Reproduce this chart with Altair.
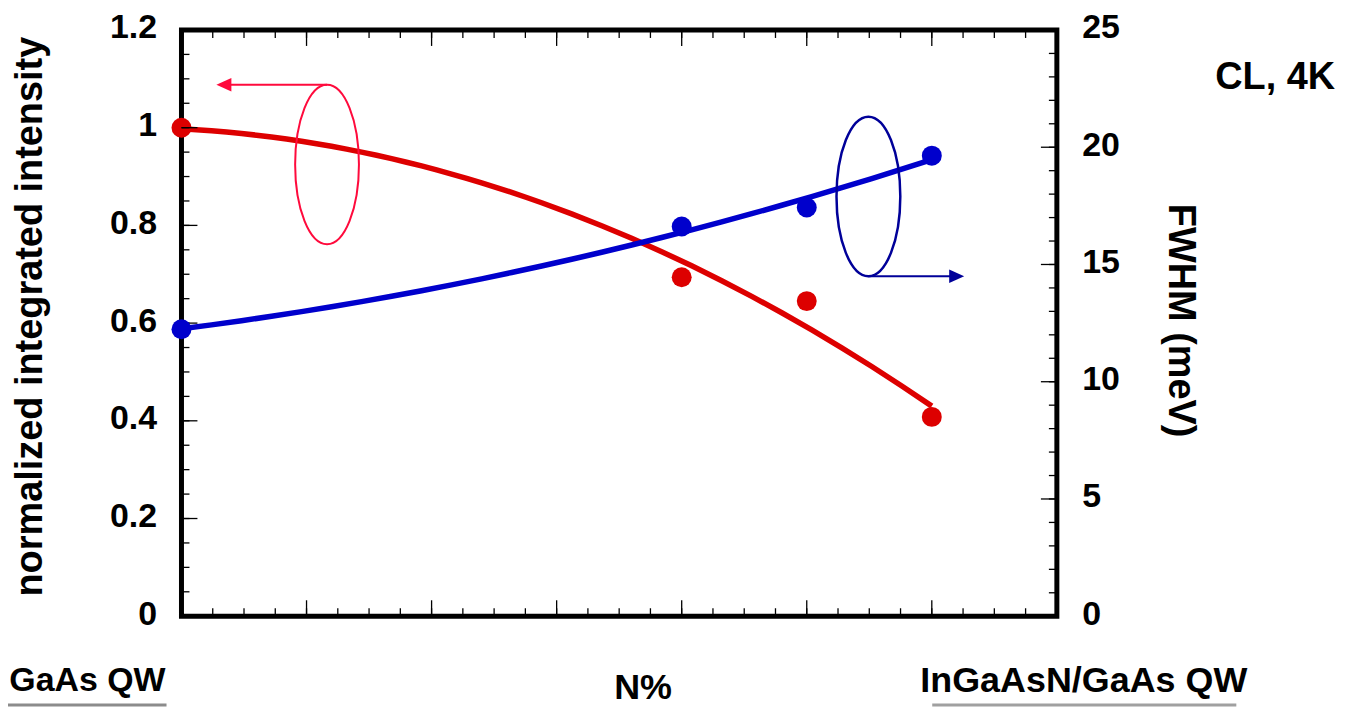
import altair as alt
import pandas as pd

# ---- data ----
n_pos = [0, 4, 5, 6]                      # sample positions along the N% axis
intensity = [1.0, 0.694, 0.645, 0.408]    # normalized integrated intensity (left axis)
fwhm = [12.24, 16.62, 17.43, 19.64]       # FWHM in meV (right axis)

left_ticks = [0, 0.2, 0.4, 0.6, 0.8, 1.0, 1.2]
right_ticks = [0, 5, 10, 15, 20, 25]
x_major = [0, 1, 2, 3, 4, 5, 6, 7]
left_minor = [round(i * 0.05, 2) for i in range(25)]
right_minor = list(range(26))
x_minor = [i * 0.25 for i in range(29)]

# annotation anchors (data coordinates)
red_ellipse = pd.DataFrame({"x": [1.164], "y": [0.9245]})
red_arrow = pd.DataFrame({"x1": [1.164], "x2": [0.339], "y": [1.0878]})
blue_ellipse = pd.DataFrame({"x": [5.493], "y": [17.90]})
blue_arrow = pd.DataFrame({"x1": [5.493], "x2": [6.199], "y": [14.50]})

W, H = 878, 588
RED = "#dd0000"
BLUE = "#0000cc"
FONT = "Liberation Sans"

ELLIPSE = ("M0,-1 C0.2209,-1 0.4,-0.5523 0.4,0 C0.4,0.5523 0.2209,1 0,1 "
           "C-0.2209,1 -0.4,0.5523 -0.4,0 C-0.4,-0.5523 -0.2209,-1 0,-1 Z")
HEAD_LEFT = "M-1,0 L1,-0.9 L1,0.9 Z"
HEAD_RIGHT = "M1,0 L-1,-0.9 L-1,0.9 Z"

df = pd.DataFrame({"N": n_pos, "intensity": intensity, "fwhm": fwhm})
one = pd.DataFrame({"k": [0]})

xs = alt.Scale(domain=[0, 7], nice=False, zero=False)
yl = alt.Scale(domain=[0, 1.2], nice=False, zero=False)
yr = alt.Scale(domain=[0, 25], nice=False, zero=False)
X = alt.X("N:Q", scale=xs, axis=None)

left_axis = alt.Axis(
    orient="left", values=left_ticks, format="~g", ticks=False, domain=False, grid=False,
    labelPadding=25, labelFont=FONT, labelFontSize=34, labelFontWeight="bold",
    labelColor="black", labelOffset=-2,
    title="normalized integrated intensity", titleFont=FONT, titleFontSize=38,
    titleFontWeight="bold", titleColor="black", titleX=-140, titleY=287,
    titleAngle=270, titleAlign="center", titleBaseline="alphabetic",
)
right_axis = alt.Axis(
    orient="right", values=right_ticks, format="~g", ticks=False, domain=False, grid=False,
    labelPadding=25, labelFont=FONT, labelFontSize=34, labelFontWeight="bold",
    labelColor="black", labelOffset=-2,
    title="FWHM (meV)", titleFont=FONT, titleFontSize=38,
    titleFontWeight="bold", titleColor="black", titleX=112, titleY=291,
    titleAngle=90, titleAlign="center", titleBaseline="alphabetic",
)

def YL(field):
    return alt.Y(field, scale=yl, axis=left_axis)

def YR(field):
    return alt.Y(field, scale=yr, axis=right_axis)

# ---- left (intensity) layer ----
red_line = alt.Chart(df).transform_regression(
    "N", "intensity", method="poly", order=2
).mark_line(color=RED, strokeWidth=5.5).encode(x=X, y=YL("intensity:Q"))
red_pts = alt.Chart(df).mark_circle(size=400, color=RED, opacity=1).encode(
    x=X, y=YL("intensity:Q")
)
lt_major = alt.Chart(pd.DataFrame({"v": left_ticks})).mark_rule(color="black", strokeWidth=1.3).encode(
    y=YL("v:Q"), x=alt.value(0), x2=alt.value(16)
)
lt_minor = alt.Chart(pd.DataFrame({"v": left_minor})).mark_rule(color="black", strokeWidth=1.3).encode(
    y=YL("v:Q"), x=alt.value(0), x2=alt.value(8)
)
red_ell = alt.Chart(red_ellipse).mark_point(
    shape=ELLIPSE, size=25600, filled=False, strokeWidth=2, color="#ff0a3c", opacity=1
).encode(x=alt.X("x:Q", scale=xs, axis=None), y=YL("y:Q"))
red_arr = alt.Chart(red_arrow).mark_rule(color="#ff0a3c", strokeWidth=2).encode(
    x=alt.X("x1:Q", scale=xs, axis=None), x2="x2:Q", y=YL("y:Q")
)
red_head = alt.Chart(red_arrow).mark_point(
    shape=HEAD_LEFT, size=225, filled=True, color="#ff0a3c", opacity=1
).encode(x=alt.X("x2:Q", scale=xs, axis=None), y=YL("y:Q"))

left = alt.layer(red_line, red_pts, lt_major, lt_minor, red_ell, red_arr, red_head)

# ---- right (FWHM) layer ----
blue_line = alt.Chart(df).transform_regression(
    "N", "fwhm", method="poly", order=2
).mark_line(color=BLUE, strokeWidth=5.5).encode(x=X, y=YR("fwhm:Q"))
blue_pts = alt.Chart(df).mark_circle(size=400, color=BLUE, opacity=1).encode(
    x=X, y=YR("fwhm:Q")
)
rt_major = alt.Chart(pd.DataFrame({"v": right_ticks})).mark_rule(color="black", strokeWidth=1.3).encode(
    y=YR("v:Q"), x=alt.value(W), x2=alt.value(W - 16)
)
rt_minor = alt.Chart(pd.DataFrame({"v": right_minor})).mark_rule(color="black", strokeWidth=1.3).encode(
    y=YR("v:Q"), x=alt.value(W), x2=alt.value(W - 8)
)
blue_ell = alt.Chart(blue_ellipse).mark_point(
    shape=ELLIPSE, size=25600, filled=False, strokeWidth=2.5, color="#000099", opacity=1
).encode(x=alt.X("x:Q", scale=xs, axis=None), y=YR("y:Q"))
blue_arr = alt.Chart(blue_arrow).mark_rule(color="#000099", strokeWidth=2).encode(
    x=alt.X("x1:Q", scale=xs, axis=None), x2="x2:Q", y=YR("y:Q")
)
blue_head = alt.Chart(blue_arrow).mark_point(
    shape=HEAD_RIGHT, size=225, filled=True, color="#000099", opacity=1
).encode(x=alt.X("x2:Q", scale=xs, axis=None), y=YR("y:Q"))

right = alt.layer(blue_line, blue_pts, rt_major, rt_minor, blue_ell, blue_arr, blue_head)

# ---- x-axis ticks (bottom and top, pointing inward) ----
def xticks(values, length):
    d = pd.DataFrame({"v": values})
    bottom = alt.Chart(d).mark_rule(color="black", strokeWidth=1.3).encode(
        x=alt.X("v:Q", scale=xs, axis=None), y=alt.value(H), y2=alt.value(H - length)
    )
    top = alt.Chart(d).mark_rule(color="black", strokeWidth=1.3).encode(
        x=alt.X("v:Q", scale=xs, axis=None), y=alt.value(0), y2=alt.value(length)
    )
    return [bottom, top]

tick_layers = xticks(x_major, 16) + xticks(x_minor, 8)

# ---- free text ----
def label(text, x, y, size, align="center"):
    return alt.Chart(one).mark_text(
        text=text, font=FONT, fontSize=size, fontWeight="bold", color="black",
        align=align, baseline="alphabetic"
    ).encode(x=alt.value(x), y=alt.value(y))

texts = [
    label("CL, 4K", 1097, 59, 38),
    label("N%", 463, 671, 36),
    label("InGaAsN/GaAs QW", 905, 664, 36),
    label("GaAs QW", -16, 663, 34, align="right"),
]
underlines = [
    alt.Chart(one).mark_rule(color="#8c8c8c", strokeWidth=3).encode(
        x=alt.value(-174), x2=alt.value(-15), y=alt.value(677)),
    alt.Chart(one).mark_rule(color="#a0a0a0", strokeWidth=3).encode(
        x=alt.value(753), x2=alt.value(1058), y=alt.value(677)),
]

chart = alt.layer(left, right, *tick_layers, *texts, *underlines).resolve_scale(
    y="independent"
).properties(
    width=W, height=H,
    padding={"left": 174, "top": 21, "right": 288, "bottom": 90},
    autosize=alt.AutoSizeParams(type="none"),
).configure_view(stroke="black", strokeWidth=5)

chart.save("out.html", embed_options={"renderer": "svg", "actions": False})
